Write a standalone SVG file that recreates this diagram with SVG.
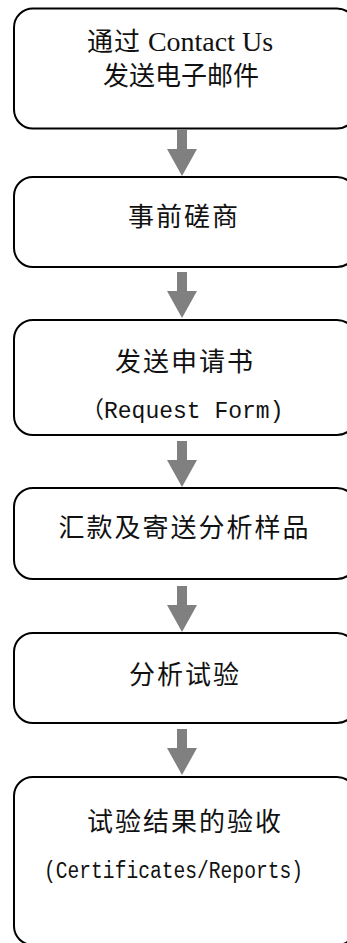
<svg xmlns="http://www.w3.org/2000/svg" width="347" height="943" viewBox="0 0 347 943">
<style>
.box{fill:#fff;stroke:#000;stroke-width:2}
.arr{fill:#808080;stroke:none}
.cn{font-family:"Noto Sans CJK SC","Noto Sans CJK JP",sans-serif;font-size:26px;letter-spacing:2px;fill:#111}
.lat{font-family:"Liberation Serif",serif;font-size:28px;letter-spacing:0;fill:#111}
.mono{font-family:"Liberation Mono","Noto Sans CJK SC",monospace;font-size:23px;fill:#111}
</style>
<rect width="347" height="943" fill="#fff"/>
<g id="connectors">
<polygon class="arr" points="177,130 187,130 187,149 197,149 182,176 167,149 177,149"/>
<polygon class="arr" points="177,272 187,272 187,291 197,291 182,318 167,291 177,291"/>
<polygon class="arr" points="177,441 187,441 187,460 197,460 182,487 167,460 177,460"/>
<polygon class="arr" points="177,586 187,586 187,605 197,605 182,632 167,605 177,605"/>
<polygon class="arr" points="177,729 187,729 187,748 197,748 182,775 167,748 177,748"/>
</g>
<g id="node1">
<rect class="box" x="14" y="8.5" width="342" height="120" rx="19"/>
<text x="180" y="51" text-anchor="middle"><tspan class="cn" style="letter-spacing:1px">通过</tspan><tspan class="lat"> Contact Us</tspan></text>
<text class="cn" x="181" y="85" text-anchor="middle" style="letter-spacing:0">发送电子邮件</text>
</g>
<g id="node2">
<rect class="box" x="14" y="177" width="342" height="90" rx="19"/>
<text class="cn" x="184" y="226" text-anchor="middle">事前磋商</text>
</g>
<g id="node3">
<rect class="box" x="14" y="320" width="342" height="115" rx="19"/>
<text class="cn" x="185" y="371" text-anchor="middle">发送申请书</text>
<text class="mono" x="81" y="418">（Request Form)</text>
</g>
<g id="node4">
<rect class="box" x="14" y="488" width="342" height="91" rx="19"/>
<text class="cn" x="184.5" y="537" text-anchor="middle">汇款及寄送分析样品</text>
</g>
<g id="node5">
<rect class="box" x="14" y="633" width="342" height="90" rx="19"/>
<text class="cn" x="185" y="684" text-anchor="middle">分析试验</text>
</g>
<g id="node6">
<rect class="box" x="14" y="777" width="342" height="168" rx="19"/>
<text class="cn" x="185" y="831" text-anchor="middle">试验结果的验收</text>
<text class="mono" x="44" y="878" textLength="259" lengthAdjust="spacingAndGlyphs">(Certificates/Reports)</text>
</g>
</svg>
